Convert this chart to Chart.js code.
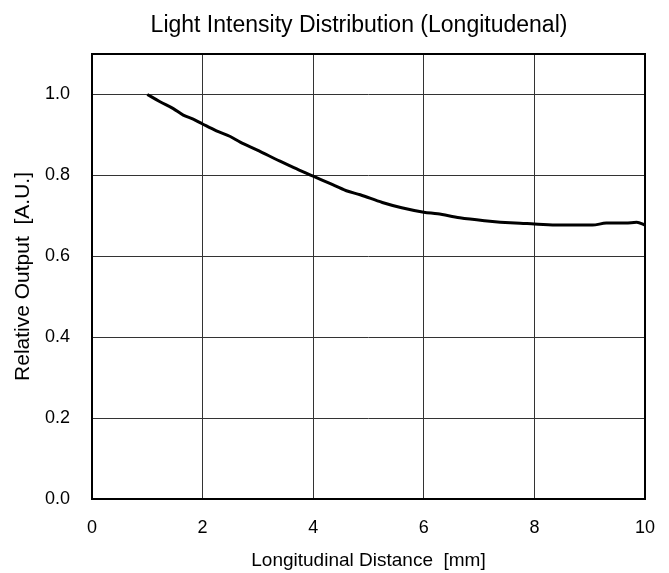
<!DOCTYPE html>
<html>
<head>
<meta charset="utf-8">
<script src="https://cdn.jsdelivr.net/npm/chart.js@4.4.1/dist/chart.umd.min.js"></script>
<style>
    body { margin: 0; background: #fff; }
    #wrap { width: 669px; height: 573px; position: relative; }
</style>
</head>
<body>
<div id="wrap"><canvas id="chart"></canvas></div>
<script>
// values
const distance = [1.0, 1.23, 1.47, 1.65, 1.83, 2.0, 2.25, 2.5, 2.68, 2.98, 3.4, 3.65, 4.0, 4.3, 4.6, 4.85, 5.25, 5.6, 6.0, 6.25, 6.65, 7.1, 7.65, 8.0, 8.45, 9.05, 9.3, 9.65, 9.85, 10.0];
const output = [1.0, 0.982, 0.965, 0.949, 0.939, 0.927, 0.910, 0.896, 0.882, 0.863, 0.835, 0.819, 0.798, 0.780, 0.762, 0.752, 0.733, 0.720, 0.709, 0.705, 0.695, 0.688, 0.682, 0.680, 0.677, 0.677, 0.682, 0.682, 0.684, 0.677];

const xTicks = [0, 2, 4, 6, 8, 10];
const yTicks = [0, 0.2, 0.4, 0.6, 0.8, 1.0];

const chartTitle = 'Light Intensity Distribution (Longitudenal)';
const font = 'Liberation Sans';

// box round the plot area, and the title centred over it
const frame = {
    id: 'frame',
    afterDatasetsDraw(chart) {
        const a = chart.chartArea;
        const ctx = chart.ctx;
        ctx.save();
        ctx.strokeStyle = '#000';
        ctx.lineWidth = 2;
        ctx.strokeRect(a.left, a.top, a.right - a.left, a.bottom - a.top);
        ctx.restore();
    },
    afterDraw(chart) {
        const ctx = chart.ctx;
        ctx.save();
        ctx.fillStyle = '#000';
        ctx.font = '23px "' + font + '"';
        ctx.textAlign = 'center';
        ctx.textBaseline = 'alphabetic';
        ctx.fillText(chartTitle, 359, 31.5);
        ctx.restore();
    }
};

const points = distance.map((x, i) => ({ x: x, y: output[i] }));

new Chart(document.getElementById('chart'), {
    type: 'line',
    data: {
        datasets: [{
            data: points,
            borderColor: '#000',
            borderWidth: 3,
            pointRadius: 0,
            fill: false,
            cubicInterpolationMode: 'monotone'
        }]
    },
    options: {
        responsive: true,
        maintainAspectRatio: false,
        animation: false,
        layout: { padding: { left: 0, right: 24, top: 54, bottom: 0 } },
        plugins: {
            legend: { display: false },
            tooltip: { enabled: false }
        },
        scales: {
            x: {
                type: 'linear',
                min: 0,
                max: 10,
                afterBuildTicks: (scale) => { scale.ticks = xTicks.map(v => ({ value: v })); },
                afterFit: (scale) => { scale.height = 74; },
                ticks: {
                    color: '#000',
                    padding: 0,
                    font: { family: font, size: 18 },
                    callback: (v) => String(v)
                },
                grid: { color: '#333', lineWidth: 1, drawTicks: true, tickLength: 18, tickColor: 'rgba(0,0,0,0)' },
                border: { display: false },
                title: {
                    display: true,
                    text: 'Longitudinal Distance  [mm]',
                    color: '#000',
                    font: { family: font, size: 19 },
                    padding: { top: 0, bottom: 1 }
                }
            },
            y: {
                min: 0,
                max: 1.1,
                afterBuildTicks: (scale) => { scale.ticks = yTicks.map(v => ({ value: v })); },
                afterFit: (scale) => { scale.width = 92; },
                ticks: {
                    color: '#000',
                    padding: 0,
                    font: { family: font, size: 18 },
                    callback: (v) => Number(v).toFixed(1)
                },
                grid: { color: '#333', lineWidth: 1, drawTicks: true, tickLength: 22, tickColor: 'rgba(0,0,0,0)' },
                border: { display: false },
                title: {
                    display: true,
                    text: 'Relative Output  [A.U.]',
                    color: '#000',
                    font: { family: font, size: 21 },
                    padding: { top: 11, bottom: 0 }
                }
            }
        }
    },
    plugins: [frame]
});
</script>
</body>
</html>
